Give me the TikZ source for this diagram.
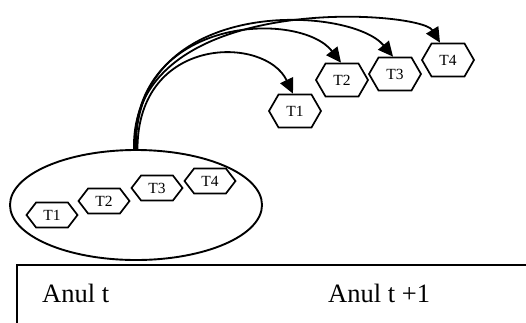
\documentclass[tikz,border=0pt]{standalone}
\usepackage{fontspec}
\setmainfont{Liberation Serif}
\usetikzlibrary{shapes.symbols,shapes.geometric,arrows.meta}
\begin{document}
\begin{tikzpicture}[x={(1pt,0pt)},y={(0pt,-1pt)},
  hexs/.style={signal, signal to=west and east, draw, line width=1.7pt, inner sep=0pt,
     font=\fontsize{15.5}{15.5}\selectfont, fill=white},
  hexlow/.style={hexs, minimum width=51pt, minimum height=25pt, signal pointer angle=105},
  hexhigh/.style={hexs, minimum width=52pt, minimum height=33pt, signal pointer angle=120},
  arr/.style={line width=1.8pt, -{Triangle[length=15pt,width=14pt]}},
  lbl/.style={font=\fontsize{26.5}{26.5}\selectfont, anchor=base west, inner sep=0pt}]
\useasboundingbox (0,0) rectangle (526,322);
\begin{scope}
\clip (0,0) rectangle (526,322);
\draw[line width=1.5pt] (17,340) -- (17,265) -- (540,265);
\end{scope}
\node[lbl] (a1) at (42,302) {Anul t};
\node[lbl] (a2) at (328,302) {Anul t +1};
\node[ellipse, draw, line width=1.9pt, minimum width=252pt, minimum height=110pt, inner sep=0pt] (ell) at (136,205) {};
\node[hexlow] (b1) at (52,215) {T1};
\node[hexlow] (b2) at (104,201) {T2};
\node[hexlow] (b3) at (157,188) {T3};
\node[hexlow] (b4) at (210,181) {T4};
\node[hexhigh] (t1) at (295,111) {T1};
\node[hexhigh] (t2) at (342,80) {T2};
\node[hexhigh] (t3) at (395,74) {T3};
\node[hexhigh] (t4) at (448,60) {T4};
\draw[arr] ([xshift=1.5pt]ell.north) .. controls (137.5,35) and (265,35) .. ([xshift=-2pt]t1.north);
\draw[arr] ([xshift=-1pt]ell.north) .. controls (132,15) and (300,10) .. ([xshift=-1pt]t2.north);
\draw[arr] ([xshift=0pt]ell.north) .. controls (133,-5) and (350,5) .. ([xshift=-2pt]t3.north);
\draw[arr] ([xshift=-2pt]ell.north) .. controls (130,-10) and (420,10) .. ([xshift=-8pt]t4.north);
\end{tikzpicture}
\end{document}
